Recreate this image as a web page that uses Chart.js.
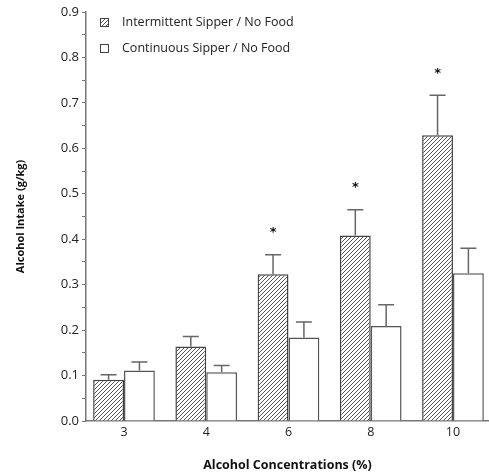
<!DOCTYPE html>
<html>
<head>
<meta charset="utf-8">
<script src="https://cdn.jsdelivr.net/npm/chart.js@4.4.0/dist/chart.umd.min.js"></script>
<style>
  html, body { margin: 0; padding: 0; background: #fff; }
  #wrap { width: 489px; height: 473px; }
</style>
</head>
<body>
<div id="wrap"><canvas id="chart"></canvas></div>
<script>
// data
const concentrations = ["3", "4", "6", "8", "10"];
const intermittentMean = [0.091, 0.164, 0.323, 0.408, 0.629];
const intermittentSem = [0.011, 0.022, 0.043, 0.057, 0.088];
const continuousMean = [0.111, 0.107, 0.184, 0.209, 0.325];
const continuousSem = [0.019, 0.015, 0.034, 0.047, 0.055];
const significant = [false, false, true, true, true];
const yTicks = [0, 0.1, 0.2, 0.3, 0.4, 0.5, 0.6, 0.7, 0.8, 0.9];

// hatch fill for the intermittent bars
function makeHatch() {
  const c = document.createElement("canvas");
  c.width = 4;
  c.height = 4;
  const g = c.getContext("2d");
  g.fillStyle = "#fff";
  g.fillRect(0, 0, 4, 4);
  g.strokeStyle = "#555";
  g.lineWidth = 1;
  g.beginPath();
  g.moveTo(0, 4);
  g.lineTo(4, 0);
  g.moveTo(-1, 1);
  g.lineTo(1, -1);
  g.moveTo(3, 5);
  g.lineTo(5, 3);
  g.stroke();
  return g.createPattern(c, "repeat");
}

const ctx = document.getElementById("chart").getContext("2d");
const hatch = makeHatch();

// error bars (upward only) and significance stars
const errorBars = {
  id: "errorBars",
  afterDatasetsDraw(chart) {
    const c = chart.ctx;
    const y = chart.scales.y;
    const sems = [intermittentSem, continuousSem];
    const means = [intermittentMean, continuousMean];
    c.save();
    c.strokeStyle = "#666";
    c.lineWidth = 1.5;
    chart.data.datasets.forEach((ds, d) => {
      chart.getDatasetMeta(d).data.forEach((bar, i) => {
        const top = y.getPixelForValue(means[d][i] + sems[d][i]);
        c.beginPath();
        c.moveTo(bar.x, bar.y);
        c.lineTo(bar.x, top);
        c.moveTo(bar.x - 8, top);
        c.lineTo(bar.x + 8, top);
        c.stroke();
        if (d === 0 && significant[i]) {
          c.fillStyle = "#111";
          c.font = "bold 13px 'DejaVu Sans'";
          c.textAlign = "center";
          c.textBaseline = "middle";
          c.fillText("*", bar.x, top - 22);
        }
      });
    });
    c.restore();
  },
};

// two stacked legend rows in the top-left of the plot
const boxLegend = {
  id: "boxLegend",
  afterDraw(chart) {
    const c = chart.ctx;
    c.save();
    c.font = "12.5px 'Open Sans'";
    c.textBaseline = "middle";
    c.textAlign = "left";
    chart.data.datasets.forEach((ds, d) => {
      const yc = 22 + d * 26;
      c.fillStyle = ds.backgroundColor;
      c.fillRect(100, yc - 4, 8, 8);
      c.strokeStyle = "#444";
      c.lineWidth = 1;
      c.strokeRect(100.5, yc - 3.5, 8, 8);
      c.fillStyle = "#222";
      c.fillText(ds.label, 122, yc);
    });
    c.restore();
  },
};

new Chart(ctx, {
  type: "bar",
  data: {
    datasets: [
      {
        label: "Intermittent Sipper / No Food",
        data: intermittentMean.map((v, i) => ({ x: i, y: v })),
        backgroundColor: hatch,
        borderColor: "#444",
        borderWidth: 1.5,
      },
      {
        label: "Continuous Sipper / No Food",
        data: continuousMean.map((v, i) => ({ x: i, y: v })),
        backgroundColor: "#fff",
        borderColor: "#555",
        borderWidth: 1.5,
      },
    ],
  },
  options: {
    responsive: true,
    maintainAspectRatio: false,
    animation: false,
    devicePixelRatio: 1,
    categoryPercentage: 0.75,
    barPercentage: 1.0,
    layout: { padding: { top: 12, right: 0, left: 0, bottom: 0 } },
    plugins: {
      legend: { display: false },
      tooltip: { enabled: false },
    },
    scales: {
      x: {
        type: "linear",
        offset: false,
        min: -0.462,
        max: 4.438,
        afterBuildTicks: (scale) => {
          scale.ticks = concentrations.map((_, i) => ({ value: i }));
        },
        afterFit: (scale) => {
          scale.height = 52;
        },
        grid: { display: false, drawTicks: false },
        border: { display: true, color: "#777", width: 1.5 },
        ticks: {
          color: "#222",
          font: { family: "Open Sans", size: 12.5 },
          padding: 4,
          callback: (v) => concentrations[v],
        },
        title: {
          display: true,
          text: "Alcohol Concentrations (%)",
          color: "#111",
          font: { family: "Open Sans", size: 12.5, weight: "bold" },
          padding: { top: 18, bottom: 0 },
        },
      },
      y: {
        min: 0,
        max: 0.9,
        afterBuildTicks: (scale) => {
          const t = [];
          for (let i = 0; i < yTicks.length; i++) {
            t.push({ value: yTicks[i] });
            if (i < yTicks.length - 1) t.push({ value: yTicks[i] + 0.05 });
          }
          scale.ticks = t;
        },
        afterFit: (scale) => {
          scale.width = 86;
        },
        grid: {
          drawOnChartArea: false,
          drawTicks: true,
          tickLength: 4,
          tickColor: "#777",
          tickWidth: 1,
        },
        border: { display: true, color: "#777", width: 1.5 },
        ticks: {
          autoSkip: false,
          color: "#222",
          font: { family: "Open Sans", size: 13 },
          padding: 3,
          callback: (v) => {
            const r = Math.round(v * 100);
            return r % 10 === 0 ? (r / 100).toFixed(1) : "";
          },
        },
        title: {
          display: true,
          text: "Alcohol Intake (g/kg)",
          color: "#111",
          font: { family: "Open Sans", size: 11, weight: "bold" },
          padding: { top: 14, bottom: 0 },
        },
      },
    },
  },
  plugins: [errorBars, boxLegend],
});
</script>
</body>
</html>
